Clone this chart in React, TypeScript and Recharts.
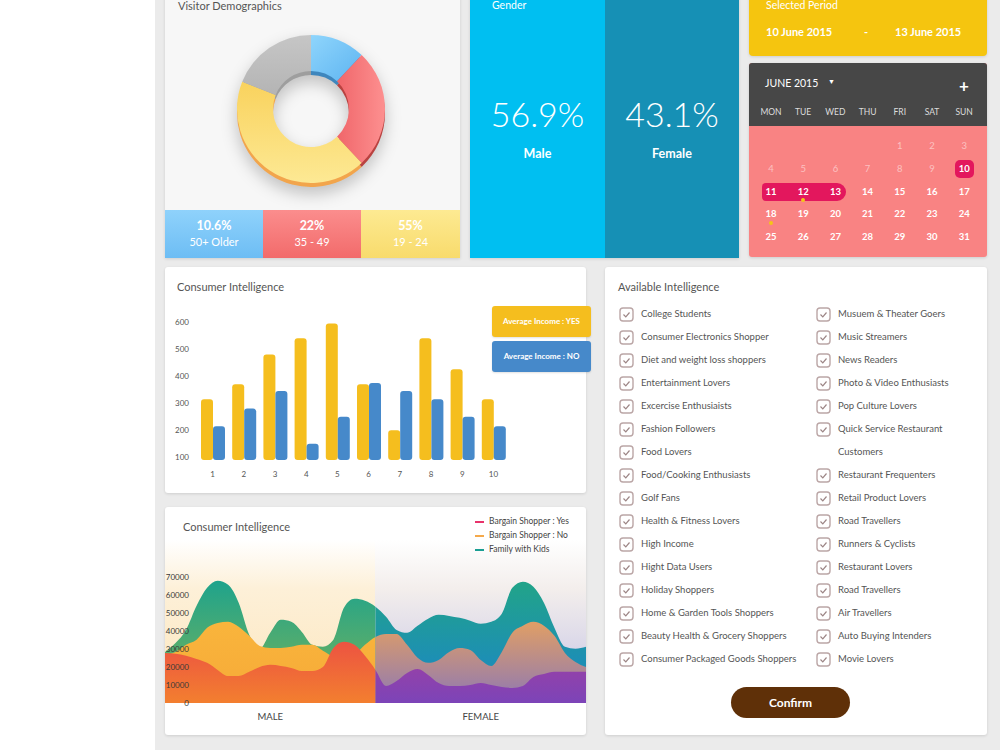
import { PieChart, Pie, Cell, BarChart, Bar, XAxis, YAxis, AreaChart, Area } from 'recharts';

// visitor demographics (slice sizes as drawn, labels as printed)
const ageGroups = ['50+ Older', '35 - 49', '19 - 24', 'Other'];
const ageSlices = [12, 26, 43, 19];
const ageLabels = ['10.6%', '22%', '55%'];

const genders = ['Male', 'Female'];
const genderShares = ['56.9%', '43.1%'];

// consumer intelligence - bars
const barCategories = ['1', '2', '3', '4', '5', '6', '7', '8', '9', '10'];
const incomeYes = [315, 370, 480, 540, 595, 370, 200, 540, 425, 315];
const incomeNo = [215, 280, 345, 150, 250, 375, 345, 315, 250, 215];
const incomeSeries = ['Average Income : YES', 'Average Income : NO'];
const incomeTicks = [100, 200, 300, 400, 500, 600];

// consumer intelligence - areas (41 samples across male | female)
const bargainYes = [
  27800, 27300, 26200, 24500, 22300, 18400, 15000, 15000, 17300, 20000, 21200, 20600, 19500, 17800,
  17800, 20000, 30600, 34000, 32300, 26200, 18400, 9500, 12200, 16700, 18900, 15600, 11100, 9500,
  9500, 10000, 11100, 10000, 8900, 8400, 9500, 14500, 16100, 17300, 17300, 17300, 17300,
];
const bargainNo = [
  26700, 28400, 32300, 35100, 41800, 44500, 45100, 42300, 37300, 31700, 30600, 30600, 31200, 32300,
  32300, 29000, 25600, 23900, 26700, 32300, 36700, 38400, 38400, 32300, 25100, 22300, 23900, 28400,
  30600, 29500, 23900, 20600, 28400, 39000, 42900, 45100, 42900, 37300, 27800, 22800, 20000,
];
const familyKids = [
  28400, 33400, 40600, 54000, 64000, 67900, 65700, 55700, 37900, 30100, 39000, 46200, 45100, 39500,
  32300, 31200, 35100, 52900, 57900, 56800, 53500, 47900, 40600, 39000, 42900, 46800, 49000, 48400,
  47300, 45700, 44000, 45100, 49600, 64000, 67400, 64600, 55700, 41800, 31200, 30100, 31200,
];
const areaSeries = ['Bargain Shopper : Yes', 'Bargain Shopper : No', 'Family with Kids'];
const areaColors = ['#e8336b', '#f5a94b', '#1a9e93'];
const genderAxis = ['MALE', 'FEMALE'];
const areaTicks = [0, 10000, 20000, 30000, 40000, 50000, 60000, 70000];

// available intelligence
const leftItems = [
  'College Students', 'Consumer Electronics Shopper', 'Diet and weight loss shoppers',
  'Entertainment Lovers', 'Excercise Enthusiaists', 'Fashion Followers', 'Food Lovers',
  'Food/Cooking Enthusiasts', 'Golf Fans', 'Health & Fitness Lovers', 'High Income',
  'Hight Data Users', 'Holiday Shoppers', 'Home & Garden Tools Shoppers',
  'Beauty Health & Grocery Shoppers', 'Consumer Packaged Goods Shoppers',
];
const rightItems = [
  'Musuem & Theater Goers', 'Music Streamers', 'News Readers', 'Photo & Video Enthusiasts',
  'Pop Culture Lovers', 'Quick Service Restaurant', 'Customers', 'Restaurant Frequenters',
  'Retail Product Lovers', 'Road Travellers', 'Runners & Cyclists', 'Restaurant Lovers',
  'Road Travellers', 'Air Travellers', 'Auto Buying Intenders', 'Movie Lovers',
];
const wrappedRows = [6];

// calendar
const weekDays = ['MON', 'TUE', 'WED', 'THU', 'FRI', 'SAT', 'SUN'];
const calendarWeeks = [
  [null, null, null, null, 1, 2, 3],
  [4, 5, 6, 7, 8, 9, 10],
  [11, 12, 13, 14, 15, 16, 17],
  [18, 19, 20, 21, 22, 23, 24],
  [25, 26, 27, 28, 29, 30, 31],
];

const font = 'Lato, "Open Sans", sans-serif';
const cardShadow = '0 1px 3px rgba(0,0,0,0.12)';
const areaMargin = { top: 19, right: 0, left: 0, bottom: 0 };

function Checkbox() {
  return (
    <svg width={15} height={15} style={{ position: 'absolute', left: 0, top: -7 }}>
      <rect x={1} y={1} width={13} height={13} rx={3} fill="#fff" stroke="#bba6a6" strokeWidth={1.4} />
      <polyline points="4.5,7.5 6.8,9.8 10.5,5.5" fill="none" stroke="#9c8585" strokeWidth={1.2} />
    </svg>
  );
}

function CheckColumn({ items, x }: { items: string[]; x: number }) {
  return (
    <>
      {items.map((label, i) => (
        <div key={i} style={{ position: 'absolute', left: x, top: 314 + 23 * i, height: 0 }}>
          {items === rightItems && wrappedRows.includes(i) ? null : <Checkbox />}
          <div
            style={{
              position: 'absolute',
              left: 22,
              top: -7,
              lineHeight: '14px',
              whiteSpace: 'nowrap',
              fontSize: 9.5,
              color: '#555',
            }}
          >
            {label}
          </div>
        </div>
      ))}
    </>
  );
}

export default function App() {
  const pieData = ageGroups.map((name, i) => ({ name, value: ageSlices[i] }));
  const barData = barCategories.map((name, i) => ({ name, yes: incomeYes[i], no: incomeNo[i] }));
  const areaData = bargainYes.map((v, i) => ({ x: i, yes: v, no: bargainNo[i], kids: familyKids[i] }));
  const pieFaces = ['url(#pBlue)', 'url(#pRed)', 'url(#pYellow)', 'url(#pGrey)'];
  const pieEdges = ['#3e86bd', '#b94240', '#f2a54c', '#9e9e9e'];
  const stripColors = [
    'linear-gradient(180deg,#8fd2fb,#6dbdf4)',
    'linear-gradient(180deg,#fb8d8d,#f26b6b)',
    'linear-gradient(180deg,#fdea92,#f8db6c)',
  ];

  return (
    <div
      style={{
        position: 'absolute',
        left: 0,
        top: 0,
        width: 1000,
        height: 750,
        background: '#ebebeb',
        overflow: 'hidden',
        fontFamily: font,
      }}
    >
      <div style={{ position: 'absolute', left: 0, top: 0, width: 155, height: 750, background: '#fff' }} />

      {/* Visitor demographics */}
      <div
        style={{
          position: 'absolute',
          left: 165,
          top: -5,
          width: 295,
          height: 263,
          background: '#f7f7f7',
          boxShadow: cardShadow,
          overflow: 'hidden',
        }}
      >
        <div style={{ position: 'absolute', left: 13, top: 4, fontSize: 11, color: '#555' }}>Visitor Demographics</div>
        <div style={{ position: 'absolute', left: 60, top: 25, filter: 'drop-shadow(0 7px 8px rgba(0,0,0,0.22))' }}>
          <PieChart width={175} height={180} margin={{ top: 0, right: 0, bottom: 0, left: 0 }}>
            <defs>
              <linearGradient id="pBlue" x1="0" y1="0" x2="1" y2="1">
                <stop offset="0%" stopColor="#8fd5fc" />
                <stop offset="100%" stopColor="#5db4f1" />
              </linearGradient>
              <linearGradient id="pRed" x1="1" y1="0" x2="0" y2="0">
                <stop offset="0%" stopColor="#fd9090" />
                <stop offset="100%" stopColor="#f0666a" />
              </linearGradient>
              <linearGradient id="pYellow" x1="0" y1="0" x2="0" y2="1">
                <stop offset="0%" stopColor="#f9d25d" />
                <stop offset="100%" stopColor="#fde994" />
              </linearGradient>
              <linearGradient id="pGrey" x1="0" y1="0" x2="0" y2="1">
                <stop offset="0%" stopColor="#c6c6c6" />
                <stop offset="100%" stopColor="#b4b4b4" />
              </linearGradient>
            </defs>
            <Pie
              data={pieData}
              dataKey="value"
              cx={86}
              cy={93}
              innerRadius={38}
              outerRadius={74}
              startAngle={90}
              endAngle={-270}
              stroke="none"
              isAnimationActive={false}
            >
              {pieData.map((d, i) => (
                <Cell key={i} fill={pieEdges[i]} />
              ))}
            </Pie>
            <Pie
              data={pieData}
              dataKey="value"
              cx={86}
              cy={89}
              innerRadius={38}
              outerRadius={74}
              startAngle={90}
              endAngle={-270}
              stroke="none"
              isAnimationActive={false}
            >
              {pieData.map((d, i) => (
                <Cell key={i} fill={pieFaces[i]} />
              ))}
            </Pie>
          </PieChart>
        </div>
        {ageLabels.map((label, i) => (
          <div
            key={i}
            style={{
              position: 'absolute',
              left: [0, 98, 196][i],
              top: 215,
              width: [98, 98, 99][i],
              height: 48,
              background: stripColors[i],
              color: '#fff',
              textAlign: 'center',
            }}
          >
            <div style={{ marginTop: 8, fontSize: 12.5, fontWeight: 700, lineHeight: '15px' }}>{label}</div>
            <div style={{ fontSize: 11, lineHeight: '17px' }}>{ageGroups[i]}</div>
          </div>
        ))}
      </div>

      {/* Gender */}
      <div style={{ position: 'absolute', left: 470, top: -5, width: 269, height: 263, boxShadow: cardShadow, overflow: 'hidden' }}>
        {genders.map((g, i) => (
          <div
            key={g}
            style={{
              position: 'absolute',
              left: i * 135,
              top: 0,
              width: i === 0 ? 135 : 134,
              height: 263,
              background: i === 0 ? '#00bff1' : '#1690b5',
              color: '#fff',
              textAlign: 'center',
            }}
          >
            <div style={{ position: 'absolute', left: 0, right: 0, top: 99, fontSize: 34, fontWeight: 300, lineHeight: '40px' }}>
              {genderShares[i]}
            </div>
            <div style={{ position: 'absolute', left: 0, right: 0, top: 151, fontSize: 12.5, fontWeight: 700 }}>{g}</div>
          </div>
        ))}
        <div style={{ position: 'absolute', left: 22, top: 4, fontSize: 10.5, color: '#fff' }}>Gender</div>
      </div>

      {/* Selected period */}
      <div
        style={{
          position: 'absolute',
          left: 749,
          top: -5,
          width: 238,
          height: 61,
          background: '#f5c50f',
          borderRadius: '0 0 4px 4px',
          color: '#fff',
          boxShadow: cardShadow,
        }}
      >
        <div style={{ position: 'absolute', left: 17, top: 4, fontSize: 10.5 }}>Selected Period</div>
        <div style={{ position: 'absolute', left: 17, top: 30, fontSize: 11, fontWeight: 700 }}>10 June 2015</div>
        <div style={{ position: 'absolute', left: 115, top: 30, fontSize: 11, fontWeight: 700 }}>-</div>
        <div style={{ position: 'absolute', left: 146, top: 30, fontSize: 11, fontWeight: 700 }}>13 June 2015</div>
      </div>

      {/* Calendar */}
      <div
        style={{
          position: 'absolute',
          left: 749,
          top: 63,
          width: 238,
          height: 194,
          background: '#f98383',
          borderRadius: 3,
          overflow: 'hidden',
          boxShadow: cardShadow,
        }}
      >
        <div style={{ position: 'absolute', left: 0, top: 0, width: 238, height: 63, background: '#474747' }} />
        <div style={{ position: 'absolute', left: 16, top: 14, fontSize: 10.5, color: '#fff' }}>JUNE 2015</div>
        <div style={{ position: 'absolute', left: 79, top: 14, fontSize: 7, color: '#fff' }}>▼</div>
        <div style={{ position: 'absolute', left: 210, top: 12, fontSize: 17, fontWeight: 700, color: '#fff' }}>+</div>
        {weekDays.map((d, i) => (
          <div
            key={d}
            style={{
              position: 'absolute',
              left: 22 + 32.2 * i - 20,
              width: 40,
              top: 44,
              textAlign: 'center',
              fontSize: 8.5,
              color: '#ddd',
            }}
          >
            {d}
          </div>
        ))}
        <div style={{ position: 'absolute', left: 206, top: 97, width: 19, height: 18, borderRadius: 5, background: '#e3175d' }} />
        <div style={{ position: 'absolute', left: 13, top: 120, width: 84, height: 18, borderRadius: '4px 9px 9px 4px', background: '#e3175d' }} />
        <div style={{ position: 'absolute', left: 52, top: 135, width: 4, height: 4, borderRadius: 2, background: '#f5c518' }} />
        <div style={{ position: 'absolute', left: 20, top: 158, width: 4, height: 4, borderRadius: 2, background: '#f5c518' }} />
        {calendarWeeks.map((week, r) =>
          week.map((day, c) =>
            day === null ? null : (
              <div
                key={`${r}-${c}`}
                style={{
                  position: 'absolute',
                  left: 22 + 32.2 * c - 15,
                  width: 30,
                  top: 83 + 22.8 * r - 7,
                  lineHeight: '14px',
                  textAlign: 'center',
                  fontSize: 9.5,
                  fontWeight: day >= 10 ? 700 : 400,
                  color: day >= 10 ? '#fff' : 'rgba(255,255,255,0.5)',
                }}
              >
                {day}
              </div>
            ),
          ),
        )}
      </div>

      {/* Consumer intelligence - bars */}
      <div
        style={{
          position: 'absolute',
          left: 165,
          top: 267,
          width: 421,
          height: 226,
          background: '#fff',
          borderRadius: 3,
          boxShadow: cardShadow,
        }}
      >
        <div style={{ position: 'absolute', left: 12, top: 13, fontSize: 11, color: '#555' }}>Consumer Intelligence</div>
      </div>
      <div style={{ position: 'absolute', left: 165, top: 295 }}>
        <BarChart
          width={360}
          height={195}
          data={barData}
          margin={{ top: 13.5, right: 16, left: 0, bottom: 0 }}
          barGap={0}
        >
          <XAxis
            dataKey="name"
            axisLine={false}
            tickLine={false}
            tickSize={0}
            tickMargin={11}
            height={30}
            tick={{ fontSize: 8, fill: '#555', fontFamily: font }}
          />
          <YAxis
            domain={[90, 650]}
            ticks={incomeTicks}
            width={32}
            axisLine={false}
            tickLine={false}
            tick={{ fontSize: 8, fill: '#555', fontFamily: font }}
          />
          <Bar dataKey="yes" name={incomeSeries[0]} fill="#f5be1e" barSize={12} radius={3} isAnimationActive={false} />
          <Bar dataKey="no" name={incomeSeries[1]} fill="#4689ca" barSize={12} radius={3} isAnimationActive={false} />
        </BarChart>
      </div>
      {incomeSeries.map((s, i) => (
        <div
          key={s}
          style={{
            position: 'absolute',
            left: 492,
            top: i === 0 ? 306 : 341,
            width: 99,
            height: 31,
            lineHeight: '31px',
            borderRadius: 3,
            background: i === 0 ? '#f5be1e' : '#4689ca',
            color: '#fff',
            fontSize: 8,
            fontWeight: 700,
            textAlign: 'center',
            boxShadow: '0 1px 2px rgba(0,0,0,0.12)',
          }}
        >
          {s}
        </div>
      ))}

      {/* Consumer intelligence - areas */}
      <div
        style={{
          position: 'absolute',
          left: 165,
          top: 507,
          width: 421,
          height: 228,
          background: '#fff',
          borderRadius: 3,
          boxShadow: cardShadow,
          overflow: 'hidden',
        }}
      >
        <div style={{ position: 'absolute', left: 18, top: 13, fontSize: 11, color: '#555' }}>Consumer Intelligence</div>
        <div
          style={{
            position: 'absolute',
            left: 0,
            top: 33,
            width: 210,
            height: 163,
            background: 'linear-gradient(180deg, rgba(253,236,205,0) 0%, #fdf0d8 30%, #fce6bd 100%)',
          }}
        />
        <div
          style={{
            position: 'absolute',
            left: 210,
            top: 33,
            width: 211,
            height: 163,
            background: 'linear-gradient(180deg, rgba(240,236,240,0) 0%, #f3eeec 30%, #c9c8e6 90%)',
          }}
        />
        {areaSeries.map((s, i) => (
          <div key={s} style={{ position: 'absolute', left: 310, top: 9 + 14 * i, fontSize: 8.5, color: '#444', whiteSpace: 'nowrap' }}>
            <span
              style={{
                display: 'inline-block',
                width: 9,
                height: 2,
                background: areaColors[i],
                verticalAlign: 'middle',
                marginRight: 5,
              }}
            />
            {s}
          </div>
        ))}
      </div>
      <div style={{ position: 'absolute', left: 165, top: 540 }}>
        <AreaChart width={421} height={190} data={areaData} margin={areaMargin}>
          <defs>
            <linearGradient id="kidsL" gradientUnits="userSpaceOnUse" x1="0" y1="40" x2="0" y2="120">
              <stop offset="0%" stopColor="#1ea38c" />
              <stop offset="100%" stopColor="#5cae69" />
            </linearGradient>
            <linearGradient id="kidsR" gradientUnits="userSpaceOnUse" x1="0" y1="45" x2="0" y2="120">
              <stop offset="0%" stopColor="#21a38a" />
              <stop offset="100%" stopColor="#1d8fb4" />
            </linearGradient>
            <linearGradient id="noL" gradientUnits="userSpaceOnUse" x1="0" y1="80" x2="0" y2="160">
              <stop offset="0%" stopColor="#f9b53c" />
              <stop offset="100%" stopColor="#f6aa38" />
            </linearGradient>
            <linearGradient id="noR" gradientUnits="userSpaceOnUse" x1="0" y1="85" x2="0" y2="150">
              <stop offset="0%" stopColor="#dd9d68" />
              <stop offset="100%" stopColor="#9a7ea8" />
            </linearGradient>
            <linearGradient id="yesL" gradientUnits="userSpaceOnUse" x1="0" y1="100" x2="0" y2="163">
              <stop offset="0%" stopColor="#ec5242" />
              <stop offset="100%" stopColor="#f37f2f" />
            </linearGradient>
            <linearGradient id="yesR" gradientUnits="userSpaceOnUse" x1="0" y1="125" x2="0" y2="163">
              <stop offset="0%" stopColor="#9541a8" />
              <stop offset="100%" stopColor="#7c44b8" />
            </linearGradient>
            {['kids', 'no', 'yes'].map((k) => (
              <pattern key={k} id={`${k}Fill`} patternUnits="userSpaceOnUse" x={0} y={0} width={421} height={190}>
                <rect x={0} y={0} width={210.5} height={190} fill={`url(#${k}L)`} />
                <rect x={210.5} y={0} width={210.5} height={190} fill={`url(#${k}R)`} />
              </pattern>
            ))}
          </defs>
          <Area type="monotone" dataKey="kids" name={areaSeries[2]} stroke="none" fill="url(#kidsFill)" fillOpacity={1} isAnimationActive={false} />
          <Area type="monotone" dataKey="no" name={areaSeries[1]} stroke="none" fill="url(#noFill)" fillOpacity={1} isAnimationActive={false} />
          <Area type="monotone" dataKey="yes" name={areaSeries[0]} stroke="none" fill="url(#yesFill)" fillOpacity={1} isAnimationActive={false} />
          <XAxis
            type="number"
            dataKey="x"
            domain={[0, 40]}
            ticks={[10, 30]}
            tickFormatter={(v) => (v === 10 ? genderAxis[0] : genderAxis[1])}
            axisLine={false}
            tickLine={false}
            tickSize={0}
            tickMargin={10}
            height={27}
            tick={{ fontSize: 9.5, fill: '#444', fontFamily: font }}
          />
          <YAxis domain={[0, 80000]} ticks={areaTicks} hide />
        </AreaChart>
      </div>
      {/* value axis drawn over the areas: the chart is 30px wider on the left so the axis has room */}
      <div style={{ position: 'absolute', left: 135, top: 540, pointerEvents: 'none' }}>
        <AreaChart width={451} height={190} data={areaData} margin={areaMargin}>
          <Area dataKey="kids" stroke="none" fill="none" isAnimationActive={false} />
          <XAxis type="number" dataKey="x" domain={[0, 40]} height={27} tick={false} axisLine={false} tickLine={false} />
          <YAxis
            domain={[0, 80000]}
            ticks={areaTicks}
            width={30}
            interval={0}
            axisLine={false}
            tickLine={false}
            tickSize={0}
            tickMargin={-24}
            tick={{ fontSize: 8, fill: '#3a3a3a', fontFamily: font }}
          />
        </AreaChart>
      </div>

      {/* Available intelligence */}
      <div
        style={{
          position: 'absolute',
          left: 605,
          top: 267,
          width: 382,
          height: 468,
          background: '#fff',
          borderRadius: 3,
          boxShadow: cardShadow,
        }}
      >
        <div style={{ position: 'absolute', left: 13, top: 13, fontSize: 11, color: '#555' }}>Available Intelligence</div>
        <div
          style={{
            position: 'absolute',
            left: 126,
            top: 420,
            width: 119,
            height: 31,
            borderRadius: 16,
            background: '#5f3008',
            color: '#fff',
            fontSize: 12,
            fontWeight: 700,
            lineHeight: '31px',
            textAlign: 'center',
          }}
        >
          Confirm
        </div>
      </div>
      <CheckColumn items={leftItems} x={619} />
      <CheckColumn items={rightItems} x={816} />
    </div>
  );
}
